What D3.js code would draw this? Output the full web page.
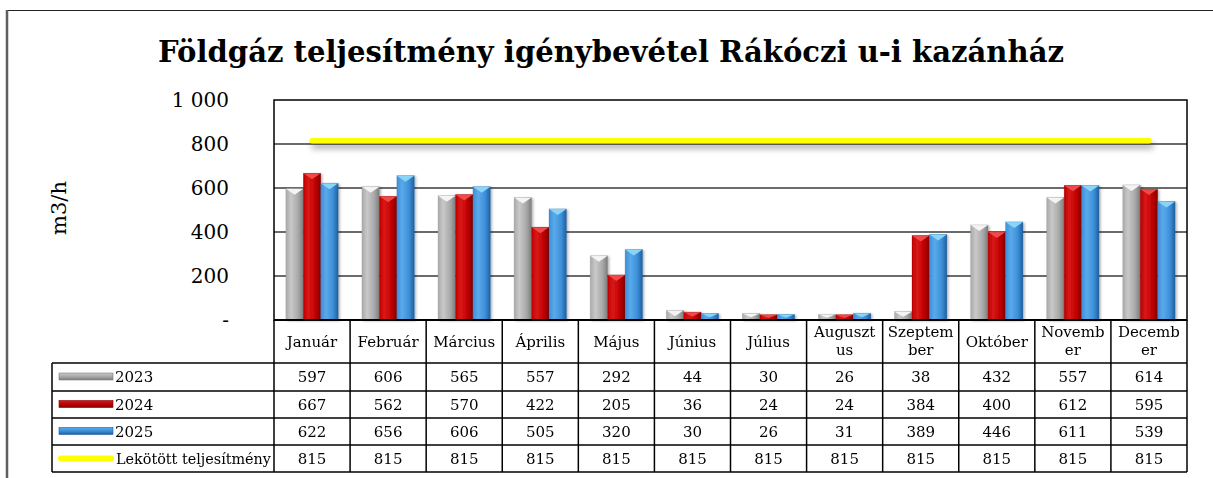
<!DOCTYPE html>
<html>
<head>
<meta charset="utf-8">
<script src="https://cdn.jsdelivr.net/npm/d3@7"></script>
<style>
  body { margin: 0; background: #fff; }
  svg text { font-family: "DejaVu Serif", Georgia, serif; fill: #000; }
</style>
</head>
<body>
<svg id="chart" width="1213" height="478"></svg>
<script>
// data
const months = ["Január", "Február", "Március", "Április", "Május", "Június",
  "Július", "Augusztus", "Szeptember", "Október", "November", "December"];
const monthLabels = ["Január", "Február", "Március", "Április", "Május", "Június",
  "Július", "Auguszt\nus", "Szeptem\nber", "Október", "Novemb\ner", "Decemb\ner"];
const seriesNames = ["2023", "2024", "2025"];
const values2023 = [597, 606, 565, 557, 292, 44, 30, 26, 38, 432, 557, 614];
const values2024 = [667, 562, 570, 422, 205, 36, 24, 24, 384, 400, 612, 595];
const values2025 = [622, 656, 606, 505, 320, 30, 26, 31, 389, 446, 611, 539];
const contracted = [815, 815, 815, 815, 815, 815, 815, 815, 815, 815, 815, 815];
const contractedName = "Lekötött teljesítmény";
const yTicks = [0, 200, 400, 600, 800, 1000];
const yTickLabels = ["-", "200", "400", "600", "800", "1 000"];

const seriesValues = [values2023, values2024, values2025];
const barColors = [
  { dark: "#7d7d7d", mid: "#a9a9a9", light: "#c9c9c9", cap: "#f4f4f4" },
  { dark: "#800000", mid: "#c00000", light: "#d81818", cap: "#ef4a4a" },
  { dark: "#1f5f9e", mid: "#3d8fd8", light: "#5aaaea", cap: "#8ad4f8" }
];

var svg = d3.select("#chart");
var defs = svg.append("defs");

barColors.forEach(function(c, i) {
  var g = defs.append("linearGradient").attr("id", "bar" + i)
    .attr("x1", 0).attr("x2", 1).attr("y1", 0).attr("y2", 0);
  g.append("stop").attr("offset", "0%").attr("stop-color", c.mid);
  g.append("stop").attr("offset", "30%").attr("stop-color", c.light);
  g.append("stop").attr("offset", "70%").attr("stop-color", c.mid);
  g.append("stop").attr("offset", "100%").attr("stop-color", c.dark);
  var s = defs.append("linearGradient").attr("id", "sw" + i)
    .attr("x1", 0).attr("x2", 0).attr("y1", 0).attr("y2", 1);
  s.append("stop").attr("offset", "0%").attr("stop-color", c.light);
  s.append("stop").attr("offset", "50%").attr("stop-color", c.mid);
  s.append("stop").attr("offset", "100%").attr("stop-color", c.dark);
});

// the capacity line is flat, so the filter box must be in user space
var shadow = defs.append("filter").attr("id", "shadow")
  .attr("filterUnits", "userSpaceOnUse")
  .attr("x", 250).attr("y", 110).attr("width", 960).attr("height", 70);
shadow.append("feDropShadow").attr("dx", 2).attr("dy", 5).attr("stdDeviation", 3)
  .attr("flood-color", "#000").attr("flood-opacity", 0.35);

var barShadow = defs.append("filter").attr("id", "barShadow")
  .attr("x", "-20%").attr("y", "-5%").attr("width", "150%").attr("height", "115%");
barShadow.append("feDropShadow").attr("dx", 1.5).attr("dy", 1).attr("stdDeviation", 1.2)
  .attr("flood-color", "#000").attr("flood-opacity", 0.3);

// outer frame
svg.append("line").attr("x1", 7).attr("x2", 1213).attr("y1", 10.5).attr("y2", 10.5)
  .attr("stroke", "#222").attr("stroke-width", 1.2);
svg.append("line").attr("x1", 7).attr("x2", 7).attr("y1", 10).attr("y2", 478)
  .attr("stroke", "#5f5f5f").attr("stroke-width", 2.5);

// title
svg.append("text")
  .attr("x", 611).attr("y", 62)
  .attr("text-anchor", "middle")
  .attr("textLength", 906).attr("lengthAdjust", "spacingAndGlyphs")
  .style("font-size", "30px").style("font-weight", "bold")
  .text("Földgáz teljesítmény igénybevétel Rákóczi u-i kazánház");

var plotL = 274, plotR = 1187, plotT = 100, plotB = 320;

var x = d3.scaleBand().domain(months).range([plotL, plotR]);
var xs = d3.scaleBand().domain(seriesNames).range([0, x.bandwidth()]).paddingOuter(0.68);
var y = d3.scaleLinear().domain([0, 1000]).range([plotB, plotT]);

// gridlines
svg.append("g").selectAll("line")
  .data(yTicks.filter(function(d) { return d > 0 && d < 1000; }))
  .join("line")
  .attr("x1", plotL).attr("x2", plotR)
  .attr("y1", function(d) { return y(d); }).attr("y2", function(d) { return y(d); })
  .attr("stroke", "#3a3a3a").attr("stroke-width", 1.5);

// y tick labels
svg.append("g").selectAll("text")
  .data(yTicks)
  .join("text")
  .attr("x", 229).attr("y", function(d) { return y(d) + 7; })
  .attr("text-anchor", "end")
  .style("font-size", "20px")
  .text(function(d, i) { return yTickLabels[i]; });

svg.append("text")
  .attr("transform", "translate(66,208) rotate(-90)")
  .attr("text-anchor", "middle")
  .style("font-size", "21px")
  .text("m3/h");

// bars
seriesValues.forEach(function(vals, si) {
  var g = svg.append("g").attr("filter", "url(#barShadow)");
  var bw = xs.bandwidth();
  var bars = g.selectAll("g").data(vals).join("g")
    .attr("transform", function(d, i) { return "translate(" + (x(months[i]) + xs(seriesNames[si])) + ",0)"; });
  bars.append("rect")
    .attr("x", 0).attr("width", bw)
    .attr("y", function(d) { return y(d); })
    .attr("height", function(d) { return plotB - y(d); })
    .attr("fill", "url(#bar" + si + ")");
  bars.append("path")
    .attr("d", function(d) {
      var top = y(d), h = Math.min(6, (plotB - top) * 0.6);
      return "M0," + top + "L" + bw + "," + top + "L" + (bw * 0.5) + "," + (top + h) + "Z";
    })
    .attr("fill", barColors[si].cap);
  bars.append("rect")
    .attr("x", 0).attr("width", bw)
    .attr("y", function(d) { return y(d); })
    .attr("height", function(d) { return plotB - y(d); })
    .attr("fill", "none").attr("stroke", barColors[si].dark).attr("stroke-opacity", 0.35).attr("stroke-width", 0.6);
});

// contracted capacity line
var line = d3.line()
  .x(function(d, i) { return x(months[i]) + x.bandwidth() / 2; })
  .y(function(d) { return y(d); });
svg.append("path")
  .datum(contracted)
  .attr("d", line)
  .attr("fill", "none")
  .attr("stroke", "#ffff00")
  .attr("stroke-width", 5.5)
  .attr("stroke-linecap", "round")
  .attr("filter", "url(#shadow)");

// plot border
svg.append("rect")
  .attr("x", plotL).attr("y", plotT)
  .attr("width", plotR - plotL).attr("height", plotB - plotT)
  .attr("fill", "none").attr("stroke", "#000").attr("stroke-width", 1.5);

// data table
var legL = 52;
var rowY = [320, 363, 391, 418, 445, 472];
var table = svg.append("g");

// horizontal rules
table.append("line").attr("x1", plotL).attr("x2", plotR).attr("y1", rowY[0]).attr("y2", rowY[0])
  .attr("stroke", "#000").attr("stroke-width", 2);
rowY.slice(1).forEach(function(ry) {
  table.append("line").attr("x1", legL).attr("x2", plotR).attr("y1", ry).attr("y2", ry)
    .attr("stroke", "#000").attr("stroke-width", 1.5);
});
// vertical rules
table.append("line").attr("x1", legL).attr("x2", legL).attr("y1", rowY[1]).attr("y2", rowY[5])
  .attr("stroke", "#000").attr("stroke-width", 1.5);
table.selectAll("line.col").data(months).join("line").attr("class", "col")
  .attr("x1", function(d) { return x(d); }).attr("x2", function(d) { return x(d); })
  .attr("y1", rowY[0]).attr("y2", rowY[5])
  .attr("stroke", "#000").attr("stroke-width", 1.5);
table.append("line").attr("x1", plotR).attr("x2", plotR).attr("y1", rowY[0]).attr("y2", rowY[5])
  .attr("stroke", "#000").attr("stroke-width", 1.5);

// month headers
table.selectAll("text.month").data(monthLabels).join("text").attr("class", "month")
  .attr("text-anchor", "middle")
  .style("font-size", "15px")
  .each(function(d, i) {
    var parts = d.split("\n");
    var cx = x(months[i]) + x.bandwidth() / 2;
    var y0 = parts.length === 1 ? 347 : 337;
    d3.select(this).selectAll("tspan").data(parts).join("tspan")
      .attr("x", cx).attr("y", function(p, k) { return y0 + k * 18; })
      .text(function(p) { return p; });
  });

// value rows
var rows = seriesValues.concat([contracted]);
rows.forEach(function(vals, ri) {
  var cy = (rowY[ri + 1] + rowY[ri + 2]) / 2 + 5;
  table.append("g").selectAll("text").data(vals).join("text")
    .attr("x", function(d, i) { return x(months[i]) + x.bandwidth() / 2; })
    .attr("y", cy)
    .attr("text-anchor", "middle")
    .style("font-size", "15px")
    .text(function(d) { return d; });
});

// legend keys
seriesNames.forEach(function(name, si) {
  var cy = (rowY[si + 1] + rowY[si + 2]) / 2;
  table.append("rect").attr("x", 59).attr("y", cy - 4).attr("width", 54).attr("height", 7)
    .attr("fill", "url(#sw" + si + ")").attr("stroke", barColors[si].dark).attr("stroke-width", 0.6);
  table.append("text").attr("x", 115).attr("y", cy + 5).style("font-size", "15px").text(name);
});
var cyL = (rowY[4] + rowY[5]) / 2;
table.append("line").attr("x1", 61).attr("x2", 111).attr("y1", cyL).attr("y2", cyL)
  .attr("stroke", "#ffff00").attr("stroke-width", 6).attr("stroke-linecap", "round");
table.append("text").attr("x", 116).attr("y", cyL + 5).style("font-size", "15px")
  .attr("textLength", 155).attr("lengthAdjust", "spacingAndGlyphs")
  .text(contractedName);
</script>
</body>
</html>
